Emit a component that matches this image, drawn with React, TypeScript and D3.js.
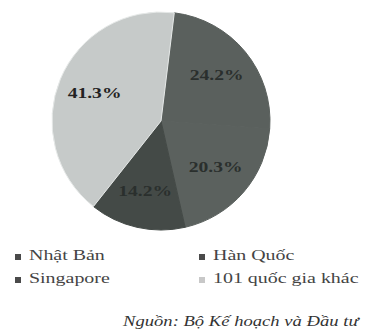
import React from "react";
import * as d3 from "d3";

const categories = ["Nhật Bản", "Hàn Quốc", "Singapore", "101 quốc gia khác"];
const values = [24.2, 20.3, 14.2, 41.3];
const labels = ["24.2%", "20.3%", "14.2%", "41.3%"];
const colors = ["#5a605d", "#5b615e", "#444a47", "#c6cac9"];
const legendColors = ["#4a4a4a", "#4a4a4a", "#4a4a4a", "#c8c8c8"];
const source = "Nguồn: Bộ Kế hoạch và Đầu tư";

const SERIF = "Liberation Serif";

export default function App() {
  const W = 370, H = 336;
  const cx = 161, cy = 121, r = 109;
  const start = (7 * Math.PI) / 180;
  const pie = d3.pie<number>().sort(null).startAngle(start).endAngle(start + 2 * Math.PI);
  const arcs = pie(values);
  const arc = d3.arc<d3.PieArcDatum<number>>().innerRadius(0).outerRadius(r);
  const labelArc = d3.arc<d3.PieArcDatum<number>>().innerRadius(72).outerRadius(72);
  const legendPos = [
    { x: 15, y: 257 },
    { x: 199, y: 257 },
    { x: 15, y: 280 },
    { x: 199, y: 280 },
  ];
  return (
    <svg width={W} height={H} style={{ position: "absolute", left: 0, top: 0, background: "#fff" }}>
      <g transform={`translate(${cx},${cy})`}>
        {arcs.map((a, i) => (
          <path key={i} d={arc(a) || ""} fill={colors[i]}
            stroke={i === 3 ? "#e6e9e8" : colors[i]} strokeWidth={1} />
        ))}
        {arcs.map((a, i) => {
          const [x, y] = labelArc.centroid(a);
          return (
            <g key={i} transform={`translate(${x},${y}) scale(1.4,1)`}>
              <text x={0} y={0} textAnchor="middle" dominantBaseline="central"
                fontSize={14} fill={i === 3 ? "#222" : "#2a2f2d"} fontFamily={SERIF} fontWeight="bold">
                {labels[i]}
              </text>
            </g>
          );
        })}
      </g>
      {categories.map((c, i) => (
        <g key={c} transform={`translate(${legendPos[i].x},${legendPos[i].y})`}>
          <rect x={0} y={-3} width={6} height={6} fill={legendColors[i]} />
          <g transform="translate(14,0) scale(1.33,1)">
            <text x={0} y={0} dominantBaseline="middle" fontSize={15} fill="#444" fontFamily={SERIF}>{c}</text>
          </g>
        </g>
      ))}
      <g transform="translate(123,323) scale(1.33,1)">
        <text x={0} y={0} dominantBaseline="middle" fontSize={14} fontStyle="italic" fill="#333" fontFamily={SERIF}>{source}</text>
      </g>
    </svg>
  );
}
